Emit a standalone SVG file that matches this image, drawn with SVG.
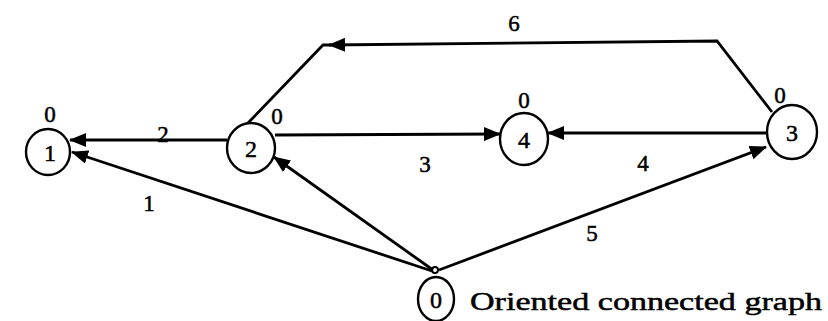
<svg xmlns="http://www.w3.org/2000/svg" width="828" height="321" viewBox="0 0 828 321">
<style>
.node{fill:none;stroke:#000;stroke-width:2.4}
.edge{fill:none;stroke:#000;stroke-width:2.8}
text{font-family:"Liberation Serif","Times New Roman",serif;fill:#000;text-anchor:middle;stroke:#000;stroke-width:0.5}
.lbl{font-size:24px}
.w{font-size:23px}
.cap{font-size:26px;text-anchor:start}
</style>
<defs>
<marker id="ah" markerUnits="userSpaceOnUse" markerWidth="17" markerHeight="14" refX="16" refY="7" orient="auto">
<path d="M0,0 L17,7 L0,14 z" fill="#000"/>
</marker>
</defs>
<rect width="828" height="321" fill="#fff"/>
<g id="connectors">
<path class="edge" d="M227,140 L70,140" marker-end="url(#ah)"/>
<path class="edge" d="M432,271 L72,152" marker-end="url(#ah)"/>
<path class="edge" d="M433,270 L274,157" marker-end="url(#ah)"/>
<path class="edge" d="M275,135 L500,134" marker-end="url(#ah)"/>
<path class="edge" d="M767,133 L548,133" marker-end="url(#ah)"/>
<path class="edge" d="M439,270 L766,147" marker-end="url(#ah)"/>
<path class="edge" d="M772,112 L717,41 L329,45" marker-end="url(#ah)"/>
<path class="edge" d="M331,45 L323,45 L248,123"/>
<circle cx="435" cy="270" r="3" fill="none" stroke="#000" stroke-width="2"/>
<text class="w" x="163" y="142">2</text>
<text class="w" x="149" y="211">1</text>
<text class="w" x="425" y="172">3</text>
<text class="w" x="643" y="171">4</text>
<text class="w" x="592" y="241">5</text>
<text class="w" x="514" y="31">6</text>
</g>
<g id="node1">
<ellipse class="node" cx="48" cy="152" rx="22" ry="23"/>
<text class="lbl" x="50" y="161">1</text>
<text class="w" x="50" y="122">0</text>
</g>
<g id="node2">
<ellipse class="node" cx="251" cy="148" rx="24" ry="25"/>
<text class="lbl" x="251" y="157">2</text>
<text class="w" x="277" y="124">0</text>
</g>
<g id="node4">
<ellipse class="node" cx="524" cy="139" rx="24" ry="26"/>
<text class="lbl" x="524" y="148">4</text>
<text class="w" x="524" y="108">0</text>
</g>
<g id="node3">
<ellipse class="node" cx="792" cy="132" rx="25" ry="27"/>
<text class="lbl" x="792" y="141">3</text>
<text class="w" x="780" y="103">0</text>
</g>
<g id="node0">
<ellipse class="node" cx="436" cy="299" rx="18" ry="22"/>
<text class="lbl" x="436" y="308">0</text>
</g>
<text class="cap" x="470" y="310" textLength="352" lengthAdjust="spacingAndGlyphs">Oriented connected graph</text>
</svg>
